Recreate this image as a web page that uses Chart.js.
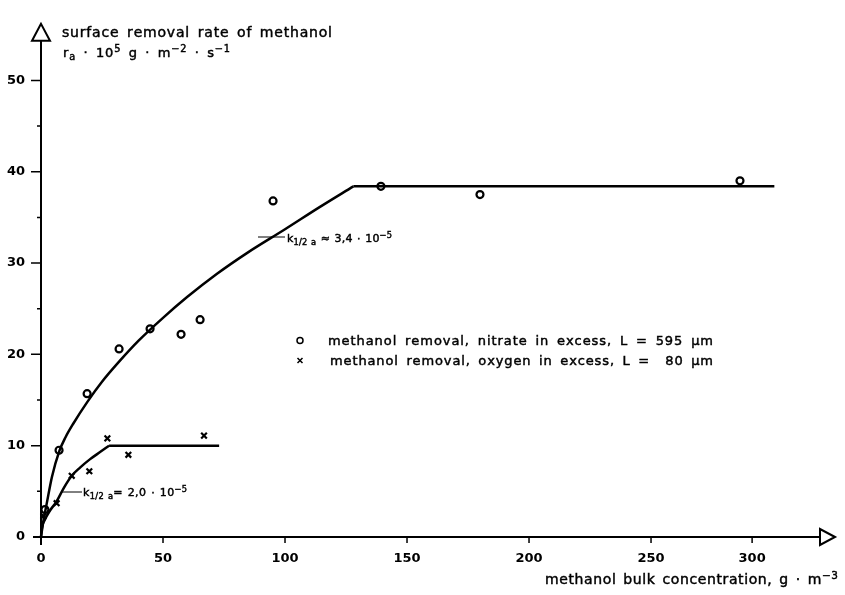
<!DOCTYPE html>
<html>
<head>
<meta charset="utf-8">
<script src="https://cdn.jsdelivr.net/npm/chart.js@4.4.1/dist/chart.umd.min.js"></script>
<style>
  html, body { margin: 0; padding: 0; background: #fff; }
  canvas { display: block; }
</style>
</head>
<body>
<canvas id="chart" width="845" height="595"></canvas>
<script>
// Measured surface removal rates (r_a · 10^5 g m^-2 s^-1) against bulk methanol (g m^-3)
const nitrateConc = [1.6, 7.4, 18.9, 32.0, 44.7, 57.4, 65.2, 95.1, 139.3, 179.9, 294];
const nitrateRate = [3.0, 9.5, 15.7, 20.6, 22.8, 22.2, 23.8, 36.8, 38.4, 37.5, 39.0];
const oxygenConc  = [1.0, 6.4, 12.6, 19.8, 27.2, 35.8, 66.8];
const oxygenRate  = [2.3, 3.7, 6.7, 7.2, 10.8, 9.0, 11.1];

// Fitted half-order curves and their zero-order plateaus
const nitrateFitConc = [0, 1, 2.3, 4.5, 7.5, 10, 13.2, 19, 25, 32, 40, 50, 60, 72, 85, 100, 114, 128];
const nitrateFitRate = [0, 1.8, 3.6, 6.6, 9.4, 10.9, 12.4, 14.8, 17.0, 19.2, 21.5, 24.0, 26.3, 28.8, 31.2, 33.7, 36.1, 38.4];
const nitratePlateauConc = [128, 311];
const nitratePlateauRate = [38.4, 38.4];
const oxygenFitConc = [0, 0.4, 1.6, 3.7, 6.4, 9.2, 12.6, 16, 20, 24.2, 27.9];
const oxygenFitRate = [0, 1.0, 1.9, 2.9, 3.9, 5.3, 6.7, 7.6, 8.5, 9.3, 10.0];
const oxygenPlateauConc = [27.9, 73];
const oxygenPlateauRate = [10.0, 10.0];

// Axis ticks
const xTicks = [0, 50, 100, 150, 200, 250, 300];
const yTicks = [0, 10, 20, 30, 40, 50];

const legendLabels = [
  'methanol removal, nitrate in excess, L = 595 µm',
  'methanol removal, oxygen in excess, L =  80 µm'
];

const FONT = '"DejaVu Sans", "Liberation Sans", sans-serif';

// The drawn concentration axis is ruled more tightly beyond 250 g/m3
const X_KNEE = 250;
const X_KNEE_FRAC = 0.7683;

class KneeLinearScale extends Chart.LinearScale {
  _toDecimal(v) {
    const lo = this.min, hi = this.max;
    return v <= X_KNEE
      ? (v - lo) / (X_KNEE - lo) * X_KNEE_FRAC
      : X_KNEE_FRAC + (v - X_KNEE) / (hi - X_KNEE) * (1 - X_KNEE_FRAC);
  }
  getPixelForValue(v) {
    if (v === null || v === undefined || Number.isNaN(v)) return NaN;
    return this.getPixelForDecimal(this._toDecimal(v));
  }
  getValueForPixel(p) {
    const d = this.getDecimalForPixel(p), lo = this.min, hi = this.max;
    return d <= X_KNEE_FRAC
      ? lo + d / X_KNEE_FRAC * (X_KNEE - lo)
      : X_KNEE + (d - X_KNEE_FRAC) / (1 - X_KNEE_FRAC) * (hi - X_KNEE);
  }
}
KneeLinearScale.id = 'kneeLinear';
Chart.register(KneeLinearScale);

const pts = (xs, ys) => xs.map((x, i) => ({ x, y: ys[i] }));

// Draws text runs (with sub/superscripts) spread evenly over a given width
function drawRuns(ctx, runs, x, y, width, size) {
  const glyphs = [];
  runs.forEach(r => {
    const s = size * (r.s || 1);
    for (const ch of r.t) glyphs.push({ ch, s, dy: r.dy || 0 });
  });
  let natural = 0, weight = 0;
  glyphs.forEach((g, i) => {
    ctx.font = g.s + 'px ' + FONT;
    g.w = ctx.measureText(g.ch).width;
    natural += g.w;
    if (i < glyphs.length - 1) weight += g.ch === ' ' ? 4 : 1;
  });
  const extra = width ? Math.max(0, (width - natural) / weight) : 0;
  let cx = x;
  ctx.textAlign = 'left';
  ctx.textBaseline = 'alphabetic';
  ctx.lineWidth = 0.45;
  ctx.strokeStyle = '#000';
  glyphs.forEach(g => {
    ctx.font = g.s + 'px ' + FONT;
    ctx.fillText(g.ch, cx, y + g.dy);
    ctx.strokeText(g.ch, cx, y + g.dy);
    cx += g.w + (g.ch === ' ' ? 4 : 1) * extra;
  });
}

const decorations = {
  id: 'decorations',
  afterDraw(chart) {
    const ctx = chart.ctx;
    const xs = chart.scales.x, ys = chart.scales.y;
    const area = chart.chartArea;
    const x0 = xs.getPixelForValue(0), y0 = ys.getPixelForValue(0);
    ctx.save();
    ctx.strokeStyle = '#000';
    ctx.fillStyle = '#000';
    ctx.lineCap = 'butt';

    // axes
    ctx.lineWidth = 2;
    ctx.beginPath();
    ctx.moveTo(x0, y0 + 8); ctx.lineTo(x0, area.top + 17);
    ctx.moveTo(x0 - 8, y0); ctx.lineTo(area.right - 15, y0);
    ctx.stroke();

    // open arrow heads
    ctx.fillStyle = '#fff';
    ctx.beginPath();
    ctx.moveTo(x0, area.top); ctx.lineTo(x0 - 9, area.top + 17); ctx.lineTo(x0 + 9, area.top + 17); ctx.closePath();
    ctx.fill(); ctx.stroke();
    ctx.beginPath();
    ctx.moveTo(area.right, y0); ctx.lineTo(area.right - 15, y0 - 8); ctx.lineTo(area.right - 15, y0 + 8); ctx.closePath();
    ctx.fill(); ctx.stroke();
    ctx.fillStyle = '#000';

    // tick marks
    ctx.lineWidth = 1.5;
    ctx.beginPath();
    for (let v = 5; v <= 50; v += 5) {
      const py = ys.getPixelForValue(v);
      ctx.moveTo(x0 - (v % 10 === 0 ? 10 : 4), py); ctx.lineTo(x0, py);
    }
    xTicks.forEach(v => {
      if (v === 0) return;
      const px = xs.getPixelForValue(v);
      ctx.moveTo(px, y0); ctx.lineTo(px, y0 + 6);
    });
    ctx.stroke();

    // axis titles
    drawRuns(ctx, [{ t: 'surface removal rate of methanol' }], 62, 37, 270, 14);
    drawRuns(ctx, [
      { t: 'r' }, { t: 'a', s: 0.75, dy: 3 }, { t: ' · 10' }, { t: '5', s: 0.75, dy: -5 },
      { t: ' g · m' }, { t: '−2', s: 0.75, dy: -5 }, { t: ' · s' }, { t: '−1', s: 0.75, dy: -5 }
    ], 63, 57, 167, 13);
    drawRuns(ctx, [{ t: 'methanol bulk concentration, g · m' }, { t: '−3', s: 0.75, dy: -5 }], 545, 584, 293, 14);

    // rate constant annotations with leader lines
    ctx.lineWidth = 1;
    ctx.beginPath();
    ctx.moveTo(258, 237); ctx.lineTo(285, 237);
    ctx.moveTo(62, 492); ctx.lineTo(82, 492);
    ctx.stroke();
    drawRuns(ctx, [{ t: 'k' }, { t: '1/2 a', s: 0.75, dy: 3 }, { t: ' ≈ 3,4 · 10' }, { t: '−5', s: 0.75, dy: -4 }], 287, 242, 105, 11);
    drawRuns(ctx, [{ t: 'k' }, { t: '1/2 a', s: 0.75, dy: 3 }, { t: '= 2,0 · 10' }, { t: '−5', s: 0.75, dy: -4 }], 83, 496, 104, 11);

    // legend
    ctx.lineWidth = 1.5;
    ctx.beginPath();
    ctx.arc(300, 340.5, 3, 0, Math.PI * 2);
    ctx.stroke();
    ctx.beginPath();
    ctx.moveTo(297.5, 358); ctx.lineTo(302.5, 363);
    ctx.moveTo(302.5, 358); ctx.lineTo(297.5, 363);
    ctx.stroke();
    drawRuns(ctx, [{ t: legendLabels[0] }], 328, 344.5, 385, 13);
    drawRuns(ctx, [{ t: legendLabels[1] }], 330, 364.5, 383, 13);
    ctx.restore();
  }
};

const lineStyle = {
  type: 'scatter', showLine: true, borderColor: '#000', borderWidth: 2.5,
  pointRadius: 0, pointHoverRadius: 0, fill: false, clip: false
};

new Chart(document.getElementById('chart'), {
  type: 'scatter',
  data: {
    datasets: [
      { ...lineStyle, data: pts(nitrateFitConc, nitrateFitRate), cubicInterpolationMode: 'monotone' },
      { ...lineStyle, data: pts(nitratePlateauConc, nitratePlateauRate) },
      { ...lineStyle, data: pts(oxygenFitConc, oxygenFitRate), cubicInterpolationMode: 'monotone' },
      { ...lineStyle, data: pts(oxygenPlateauConc, oxygenPlateauRate) },
      {
        data: pts(nitrateConc, nitrateRate), pointStyle: 'circle', pointRadius: 3.5,
        borderColor: '#000', backgroundColor: 'rgba(255,255,255,0)', borderWidth: 2.2, clip: false
      },
      {
        data: pts(oxygenConc, oxygenRate), pointStyle: 'crossRot', pointRadius: 4,
        borderColor: '#000', borderWidth: 2.2, clip: false
      }
    ]
  },
  options: {
    responsive: false,
    devicePixelRatio: 1,
    animation: false,
    layout: { padding: { top: 5, right: 10, left: 0, bottom: 0 } },
    plugins: { legend: { display: false }, tooltip: { enabled: false } },
    scales: {
      x: {
        type: 'kneeLinear', min: 0, max: 341,
        afterFit: s => { s.height = 58; },
        afterBuildTicks: s => { s.ticks = xTicks.map(v => ({ value: v })); },
        grid: { display: false, drawTicks: false },
        border: { display: false },
        ticks: { padding: 14, color: '#000', font: { family: FONT, size: 13, weight: 'bold' }, maxRotation: 0, autoSkip: false }
      },
      y: {
        type: 'linear', min: 0, max: 56.2,
        afterFit: s => { s.width = 41; },
        afterBuildTicks: s => { s.ticks = yTicks.map(v => ({ value: v })); },
        grid: { display: false, drawTicks: false },
        border: { display: false },
        ticks: { padding: 16, color: '#000', font: { family: FONT, size: 13, weight: 'bold' } }
      }
    }
  },
  plugins: [decorations]
});
</script>
</body>
</html>
